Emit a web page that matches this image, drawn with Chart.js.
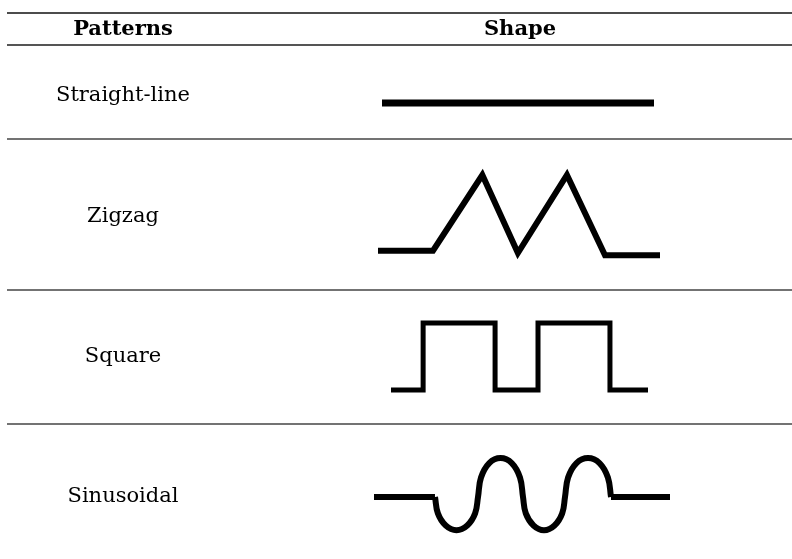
<!DOCTYPE html>
<html>
<head>
<meta charset="utf-8">
<script src="https://cdn.jsdelivr.net/npm/chart.js@4.4.1/dist/chart.umd.min.js"></script>
<style>
html,body{margin:0;padding:0;background:#fff;}
#wrap{width:792px;height:559px;}
</style>
</head>
<body>
<div id="wrap"><canvas id="c" width="792" height="559"></canvas></div>
<script>
// ---- data ----
const headers = ['Patterns', 'Shape'];
const patterns = ['Straight-line', 'Zigzag', 'Square', 'Sinusoidal'];
// shapes: x as % of shape width, y as level (0 = baseline, 1 = top)
const straightX = [0, 100];
const straightY = [0, 0];
const zigzagX = [0, 19.5, 37, 49.6, 67, 80.5, 100];
const zigzagY = [0.03, 0.03, 1, 0, 1, -0.03, -0.03];
const squareX = [0, 12.5, 12.5, 40.5, 40.5, 57.2, 57.2, 85.2, 85.2, 100];
const squareY = [0, 0, 1, 1, 0, 0, 1, 1, 0, 0];
const sineFlatLeftX = [0, 20.6];
const sineFlatLeftY = [0, 0];
const sineWaveX = [20.61, 21.59, 24.24, 27.87, 31.50, 34.16, 35.14,
                   36.15, 38.94, 42.74, 46.54, 49.32, 50.34,
                   51.28, 53.89, 57.43, 60.98, 63.58, 64.53,
                   65.57, 68.41, 72.30, 76.18, 79.02, 80.07];
const sineWaveY = [0, -0.42, -0.73, -0.85, -0.73, -0.42, 0,
                   0.5, 0.87, 1, 0.87, 0.5, 0,
                   -0.42, -0.73, -0.85, -0.73, -0.42, 0,
                   0.5, 0.87, 1, 0.87, 0.5, 0];
const sineFlatRightX = [80.07, 100];
const sineFlatRightY = [0, 0];

// ---- layout (pixel-like units of the chart's own scales) ----
const W = 792, H = 559;
const rules = [{y: 13, w: 1.5, c: '#111'}, {y: 45, w: 2.2, c: '#555'},
               {y: 139, w: 1.6, c: '#444'}, {y: 290, w: 1.6, c: '#444'}, {y: 424, w: 1.6, c: '#444'}];
const ruleX0 = 7, ruleX1 = 792;
const textX = 123, shapeHeaderX = 520, headerY = 30;
const rowTextY = [96, 217, 357, 497];
// shape boxes: x0, x1, baseline y, top y
const boxes = [
  {x0: 382, x1: 654, base: 103, top: 103, lw: 7},
  {x0: 378, x1: 660, base: 253, top: 175, lw: 6},
  {x0: 391, x1: 648, base: 390, top: 323, lw: 5},
  {x0: 374, x1: 670, base: 497, top: 458, lw: 6}
];
function pts(box, xs, ys) {
  return xs.map((x, i) => ({x: box.x0 + (box.x1 - box.x0) * x / 100,
                             y: box.base - (box.base - box.top) * ys[i]}));
}
function ds(data, lw, extra) {
  return Object.assign({data, borderColor: '#000', borderWidth: lw, pointRadius: 0,
    showLine: true, fill: false, borderJoinStyle: 'miter', borderCapStyle: 'butt', tension: 0}, extra || {});
}
const datasets = [
  ds(pts(boxes[0], straightX, straightY), boxes[0].lw),
  ds(pts(boxes[1], zigzagX, zigzagY), boxes[1].lw),
  ds(pts(boxes[2], squareX, squareY), boxes[2].lw),
  ds(pts(boxes[3], sineFlatLeftX, sineFlatLeftY), boxes[3].lw),
  ds(pts(boxes[3], sineWaveX, sineWaveY), boxes[3].lw, {tension: 0.4, borderJoinStyle: 'round'}),
  ds(pts(boxes[3], sineFlatRightX, sineFlatRightY), boxes[3].lw)
];

const tablePlugin = {
  id: 'tablePlugin',
  beforeDatasetsDraw(chart) {
    const ctx = chart.ctx, xs = chart.scales.x, ys = chart.scales.y;
    ctx.save();
    rules.forEach(r => {
      ctx.beginPath();
      ctx.strokeStyle = r.c; ctx.lineWidth = r.w;
      ctx.moveTo(xs.getPixelForValue(ruleX0), ys.getPixelForValue(r.y));
      ctx.lineTo(xs.getPixelForValue(ruleX1), ys.getPixelForValue(r.y));
      ctx.stroke();
    });
    ctx.fillStyle = '#000';
    ctx.textAlign = 'center';
    ctx.textBaseline = 'middle';
    ctx.font = 'bold 21px "DejaVu Serif"';
    ctx.fillText(headers[0], xs.getPixelForValue(textX), ys.getPixelForValue(headerY));
    ctx.fillText(headers[1], xs.getPixelForValue(shapeHeaderX), ys.getPixelForValue(headerY));
    ctx.font = '21px "DejaVu Serif"';
    patterns.forEach((p, i) => {
      ctx.fillText(p, xs.getPixelForValue(textX), ys.getPixelForValue(rowTextY[i]));
    });
    ctx.restore();
  }
};

new Chart(document.getElementById('c'), {
  type: 'scatter',
  data: {datasets},
  options: {
    responsive: false, animation: false,
    layout: {padding: 0},
    plugins: {legend: {display: false}, tooltip: {enabled: false}},
    scales: {
      x: {type: 'linear', min: 0, max: W, display: false},
      y: {type: 'linear', min: 0, max: H, reverse: true, display: false}
    }
  },
  plugins: [tablePlugin]
});
</script>
</body>
</html>
